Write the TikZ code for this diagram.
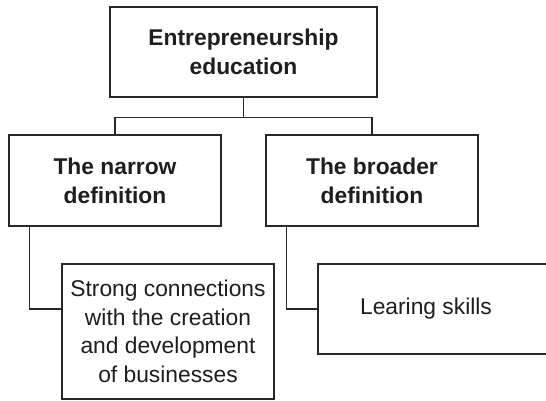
\documentclass[tikz,border=0pt]{standalone}
\usepackage{fontspec}
\setmainfont{Liberation Sans}
\usetikzlibrary{positioning}
\definecolor{boxline}{RGB}{40,40,40}
\definecolor{boxtext}{RGB}{30,30,30}

\begin{document}
\begin{tikzpicture}[
        x=1pt, y=-1pt,
        box/.style={rectangle, draw=boxline, line width=1.1pt, fill=white, text=boxtext,
            minimum width=#1,
            minimum height=90pt,
            inner sep=2pt,
            align=center, font=\fontsize{22.8}{28.5}\selectfont},
        box/.default=212pt,
        head/.style={box=#1, font=\fontsize{22.8}{29}\selectfont\bfseries},
        head/.default=212pt,
        link/.style={draw=boxline, line width=1.1pt}
    ]
        \useasboundingbox (0,0) rectangle (546,400);

        % Boxes
        \node[head=267pt] (edu) at (243.5,52) {Entrepreneurship\\education};
        \node[head, minimum height=91pt] (narrow) at (115,180.5) {The narrow\\definition};
        \node[head, minimum height=91pt] (broad) at (372,180.5) {The broader\\definition};
        \node[box, minimum height=135pt] (strong) at (168,331.5)
            {Strong connections\\with the creation\\and development\\of businesses};
        \node[box=242pt] (skills) at (439,309) {Learing skills\hspace*{26pt}};

        % Connections
        \draw[link] (edu.south) -- ++(0,20) -| (narrow.north);
        \draw[link] (edu.south) -- ++(0,20) -| (broad.north);
        \draw[link] ([xshift=21pt]narrow.south west) |- (strong.west |- skills.west);
        \draw[link] ([xshift=21pt]broad.south west) |- (skills.west);
    \end{tikzpicture}
\end{document}
